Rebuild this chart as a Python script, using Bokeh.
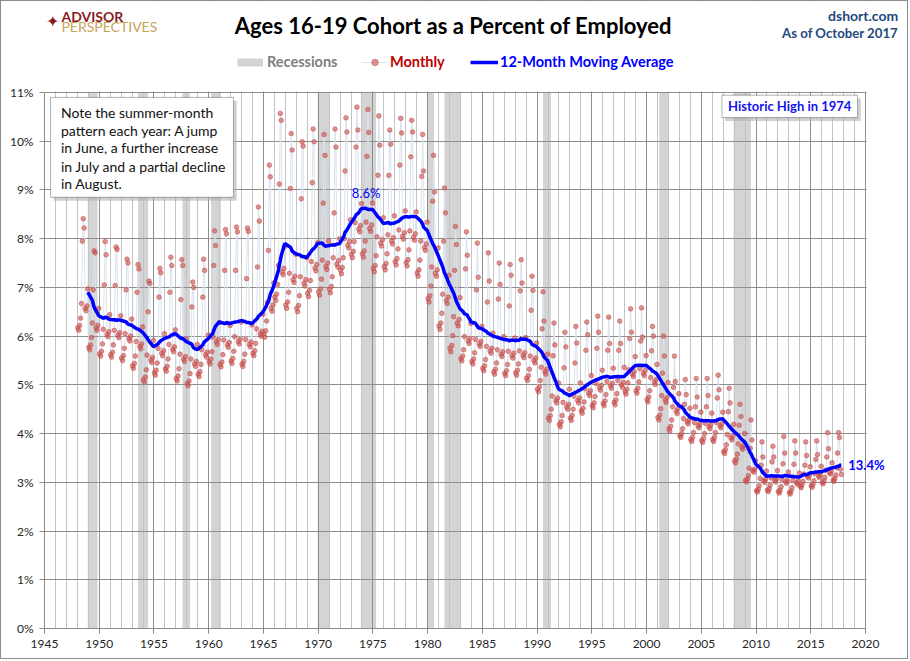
import pandas as pd
from bokeh.plotting import figure
from bokeh.models import (Range1d, FixedTicker, PrintfTickFormatter, Label, BoxAnnotation,
                          Legend, LegendItem, ColumnDataSource)
from bokeh.embed import file_html
from bokeh.resources import INLINE

# ---------------- data (percent of employed aged 16-19), Jan 1948 - Oct 2017 ----------------
first_year = 1948
monthly_1948_1959 = [
    [6.17, 6.12, 6.22, 6.37, 6.67, 7.95, 8.41, 8.22, 6.57, 6.52, 6.62, 6.97],
    [5.77, 5.72, 5.82, 5.97, 6.27, 6.95, 7.75, 7.71, 6.17, 6.12, 6.22, 6.57],
    [5.64, 5.59, 5.69, 5.84, 6.14, 7.05, 7.94, 7.67, 6.04, 5.99, 6.09, 6.44],
    [5.62, 5.57, 5.67, 5.82, 6.12, 7.04, 7.83, 7.78, 6.02, 5.97, 6.07, 6.42],
    [5.55, 5.50, 5.60, 5.75, 6.05, 6.95, 7.58, 7.50, 5.95, 5.90, 6.00, 6.35],
    [5.39, 5.34, 5.44, 5.59, 5.89, 6.90, 7.47, 7.38, 5.79, 5.74, 5.84, 6.19],
    [5.11, 5.06, 5.16, 5.31, 5.61, 6.50, 7.13, 7.08, 5.51, 5.46, 5.56, 5.91],
    [5.25, 5.20, 5.30, 5.45, 5.75, 6.80, 7.39, 7.30, 5.65, 5.60, 5.70, 6.05],
    [5.33, 5.28, 5.38, 5.53, 5.83, 6.90, 7.62, 7.45, 5.73, 5.68, 5.78, 6.13],
    [5.13, 5.08, 5.18, 5.33, 5.63, 6.75, 7.57, 7.45, 5.53, 5.48, 5.58, 5.93],
    [5.03, 4.98, 5.08, 5.23, 5.53, 6.60, 7.11, 7.00, 5.43, 5.38, 5.48, 5.83],
    [5.22, 5.17, 5.27, 5.42, 5.72, 6.80, 7.58, 7.35, 5.62, 5.57, 5.67, 6.02],
]
monthly_1960_1969 = [
    [5.48, 5.43, 5.53, 5.68, 5.98, 7.45, 8.16, 7.86, 5.88, 5.83, 5.93, 6.28],
    [5.42, 5.37, 5.47, 5.62, 5.92, 7.35, 8.19, 8.10, 5.82, 5.77, 5.87, 6.22],
    [5.49, 5.44, 5.54, 5.69, 5.99, 7.35, 8.24, 8.14, 5.89, 5.84, 5.94, 6.29],
    [5.43, 5.38, 5.48, 5.63, 5.93, 7.18, 8.22, 8.15, 5.83, 5.78, 5.88, 6.23],
    [5.65, 5.60, 5.70, 5.85, 6.15, 7.42, 8.65, 8.36, 6.05, 6.00, 6.10, 6.45],
    [6.05, 5.98, 6.11, 6.31, 6.70, 7.76, 9.51, 9.27, 6.57, 6.51, 6.64, 7.09],
    [6.80, 6.73, 6.86, 7.06, 7.45, 9.12, 10.57, 10.43, 7.32, 7.26, 7.39, 7.84],
    [6.64, 6.57, 6.70, 6.90, 7.29, 9.03, 10.16, 9.82, 7.16, 7.10, 7.23, 7.68],
    [6.57, 6.50, 6.63, 6.83, 7.22, 8.82, 9.99, 9.90, 7.09, 7.03, 7.16, 7.61],
    [6.88, 6.81, 6.94, 7.14, 7.53, 9.15, 10.25, 9.99, 7.40, 7.34, 7.47, 7.92],
]
monthly_1970_1979 = [
    [6.91, 6.84, 6.97, 7.17, 7.56, 8.73, 10.14, 9.71, 7.43, 7.37, 7.50, 7.95],
    [6.96, 6.89, 7.02, 7.22, 7.61, 8.53, 10.25, 9.88, 7.48, 7.42, 7.55, 8.00],
    [7.35, 7.28, 7.41, 7.61, 8.00, 9.39, 10.48, 10.19, 7.87, 7.81, 7.94, 8.39],
    [7.68, 7.61, 7.74, 7.94, 8.33, 9.88, 10.70, 10.23, 8.20, 8.14, 8.27, 8.72],
    [7.69, 7.62, 7.75, 7.95, 8.34, 9.69, 10.65, 10.18, 8.21, 8.15, 8.28, 8.73],
    [7.39, 7.32, 7.45, 7.65, 8.04, 9.30, 10.52, 9.92, 7.91, 7.85, 7.98, 8.43],
    [7.43, 7.36, 7.49, 7.69, 8.08, 9.30, 10.23, 9.94, 7.95, 7.89, 8.02, 8.47],
    [7.53, 7.46, 7.59, 7.79, 8.18, 9.51, 10.47, 10.17, 8.05, 7.99, 8.12, 8.57],
    [7.51, 7.44, 7.57, 7.77, 8.16, 9.68, 10.43, 10.19, 8.03, 7.97, 8.10, 8.55],
    [7.30, 7.23, 7.36, 7.56, 7.95, 9.28, 10.14, 9.39, 7.82, 7.76, 7.89, 8.34],
]
monthly_1980_1989 = [
    [6.77, 6.70, 6.83, 7.03, 7.42, 8.77, 9.71, 8.96, 7.29, 7.23, 7.36, 7.81],
    [6.21, 6.14, 6.27, 6.47, 6.86, 7.95, 9.04, 8.53, 6.73, 6.67, 6.80, 7.25],
    [5.75, 5.68, 5.81, 6.01, 6.40, 7.35, 8.25, 7.88, 6.27, 6.21, 6.34, 6.79],
    [5.54, 5.49, 5.59, 5.72, 5.99, 7.38, 8.14, 7.66, 5.90, 5.85, 5.95, 6.26],
    [5.48, 5.43, 5.53, 5.66, 5.93, 6.95, 7.91, 7.21, 5.84, 5.79, 5.89, 6.20],
    [5.34, 5.29, 5.39, 5.52, 5.79, 6.70, 7.71, 7.13, 5.70, 5.65, 5.75, 6.06],
    [5.27, 5.22, 5.32, 5.45, 5.72, 6.76, 7.50, 7.06, 5.63, 5.58, 5.68, 5.99],
    [5.24, 5.19, 5.29, 5.42, 5.69, 6.62, 7.47, 7.25, 5.60, 5.55, 5.65, 5.96],
    [5.25, 5.20, 5.30, 5.43, 5.70, 6.93, 7.57, 7.09, 5.61, 5.56, 5.66, 5.97],
    [5.14, 5.09, 5.19, 5.32, 5.59, 6.53, 7.23, 6.94, 5.50, 5.45, 5.55, 5.86],
]
monthly_1990_1999 = [
    [4.91, 4.86, 4.96, 5.09, 5.36, 6.15, 6.91, 6.31, 5.27, 5.22, 5.32, 5.63],
    [4.32, 4.27, 4.37, 4.50, 4.77, 5.60, 6.27, 5.82, 4.68, 4.63, 4.73, 5.04],
    [4.19, 4.14, 4.24, 4.37, 4.64, 5.35, 6.08, 5.78, 4.55, 4.50, 4.60, 4.91],
    [4.32, 4.27, 4.37, 4.50, 4.77, 5.45, 6.20, 5.86, 4.68, 4.63, 4.73, 5.04],
    [4.47, 4.42, 4.52, 4.65, 4.92, 5.71, 6.29, 6.03, 4.83, 4.78, 4.88, 5.19],
    [4.58, 4.53, 4.63, 4.76, 5.03, 5.75, 6.41, 6.08, 4.94, 4.89, 4.99, 5.30],
    [4.62, 4.57, 4.67, 4.80, 5.07, 5.71, 6.39, 5.85, 4.98, 4.93, 5.03, 5.34],
    [4.64, 4.59, 4.69, 4.82, 5.09, 5.71, 6.31, 5.85, 5.00, 4.95, 5.05, 5.36],
    [4.86, 4.81, 4.91, 5.04, 5.31, 5.95, 6.56, 6.08, 5.22, 5.17, 5.27, 5.58],
    [4.88, 4.83, 4.93, 5.06, 5.33, 5.90, 6.58, 5.98, 5.24, 5.19, 5.29, 5.60],
]
monthly_2000_2009 = [
    [4.70, 4.65, 4.75, 4.88, 5.15, 5.70, 6.20, 6.00, 5.06, 5.01, 5.11, 5.42],
    [4.33, 4.28, 4.38, 4.51, 4.78, 5.24, 6.00, 5.59, 4.69, 4.64, 4.74, 5.05],
    [4.10, 4.05, 4.15, 4.28, 4.55, 4.95, 5.59, 5.07, 4.46, 4.41, 4.51, 4.82],
    [3.96, 3.92, 4.00, 4.10, 4.31, 4.60, 5.11, 4.80, 4.24, 4.20, 4.28, 4.52],
    [3.88, 3.84, 3.92, 4.02, 4.23, 4.55, 5.13, 4.75, 4.16, 4.12, 4.20, 4.44],
    [3.86, 3.82, 3.90, 4.00, 4.21, 4.55, 5.13, 4.78, 4.14, 4.10, 4.18, 4.42],
    [3.88, 3.84, 3.92, 4.02, 4.23, 4.73, 5.20, 4.90, 4.16, 4.12, 4.20, 4.44],
    [3.63, 3.59, 3.67, 3.77, 3.98, 4.45, 4.93, 4.63, 3.91, 3.87, 3.95, 4.19],
    [3.44, 3.40, 3.48, 3.58, 3.79, 4.17, 4.60, 4.35, 3.72, 3.68, 3.76, 4.00],
    [3.04, 3.01, 3.07, 3.14, 3.29, 3.70, 4.28, 3.87, 3.24, 3.21, 3.27, 3.44],
]
monthly_2010_2017 = [
    [2.83, 2.80, 2.86, 2.93, 3.08, 3.35, 3.83, 3.52, 3.03, 3.00, 3.06, 3.23],
    [2.84, 2.81, 2.87, 2.94, 3.09, 3.42, 3.74, 3.52, 3.04, 3.01, 3.07, 3.24],
    [2.81, 2.78, 2.84, 2.91, 3.06, 3.38, 3.94, 3.60, 3.01, 2.98, 3.04, 3.21],
    [2.79, 2.76, 2.82, 2.89, 3.04, 3.37, 3.85, 3.60, 2.99, 2.96, 3.02, 3.19],
    [2.92, 2.89, 2.95, 3.02, 3.17, 3.35, 3.83, 3.55, 3.12, 3.09, 3.15, 3.32],
    [2.93, 2.90, 2.96, 3.03, 3.18, 3.47, 3.85, 3.57, 3.13, 3.10, 3.16, 3.33],
    [3.00, 2.97, 3.03, 3.10, 3.25, 3.52, 4.02, 3.69, 3.20, 3.17, 3.23, 3.40],
    [3.05, 3.02, 3.08, 3.15, 3.30, 3.60, 4.02, 3.92, 3.27, 3.16],
]

recession_start = [1948.95, 1953.55, 1957.60, 1960.22, 1969.96, 1973.92, 1980.00, 1981.53, 1990.54, 2001.16, 2007.95]
recession_end = [1949.84, 1954.47, 1958.30, 1961.10, 1971.00, 1975.29, 1980.59, 1982.99, 1991.27, 2001.96, 2009.54]

x_ticks = list(range(1945, 2021, 5))
x_minor = list(range(1945, 2021))
y_ticks = list(range(0, 12))

title_text = "Ages 16-19 Cohort as a Percent of Employed"
site_text = "dshort.com"
asof_text = "As of October 2017"
logo_top = "ADVISOR"
logo_bottom = "PERSPECTIVES"
note_lines = ["Note the summer-month", "pattern each year:  A jump", "in June, a further increase",
              "in July and a partial decline", "in August."]
high_text = "Historic High in 1974"
peak_label = "8.6%"
last_label = "13.4%"
legend_labels = ["Recessions", "Monthly", "12-Month Moving Average"]

# ---------------- derived series ----------------
blocks = [monthly_1948_1959, monthly_1960_1969, monthly_1970_1979, monthly_1980_1989,
          monthly_1990_1999, monthly_2000_2009, monthly_2010_2017]
monthly = [v for block in blocks for row in block for v in row]
xs = [first_year + i / 12 + 1 / 24 for i in range(len(monthly))]
ma = pd.Series(monthly).rolling(12).mean()
ma_x = [x for x, m in zip(xs, ma) if pd.notna(m)]
ma_y = [m for m in ma if pd.notna(m)]

FONT = "Lato"
X0, X1 = 1945, 2020
Y0, Y1 = 0, 11

# frame spans to the top and right edges of the canvas so header, legend and end label are visible;
# axes are bounded to the data area
p = figure(width=908, height=659, x_range=Range1d(1945, 2024.02), y_range=Range1d(0, 12.868),
           output_backend="svg", toolbar_location=None,
           min_border_left=43, min_border_right=0, min_border_top=0, min_border_bottom=32,
           background_fill_color="white", border_fill_color="white", outline_line_color=None,
           styles={"border": "1px solid #8c8c8c"})

# recessions
rec = p.quad(left=recession_start, right=recession_end, bottom=Y0, top=Y1,
             fill_color="#d4d4d4", line_color=None, level="image")

# axes and grids
p.xaxis.ticker = FixedTicker(ticks=x_ticks, minor_ticks=x_minor)
p.yaxis.ticker = FixedTicker(ticks=y_ticks)
p.xgrid.ticker = FixedTicker(ticks=x_ticks, minor_ticks=x_minor)
p.xgrid.grid_line_color = "#8e8e8e"
p.xgrid.minor_grid_line_color = "#c4c4c4"
p.ygrid.grid_line_color = "#8e8e8e"
p.yaxis.formatter = PrintfTickFormatter(format="%d%%")
p.xaxis.bounds = (X0, X1)
p.yaxis.bounds = (Y0, Y1)

for ax in (p.xaxis, p.yaxis):
    ax.axis_line_color = "#8a8a8a"
    ax.major_tick_line_color = "#8a8a8a"
    ax.major_tick_in = 0
    ax.major_tick_out = 5
    ax.minor_tick_line_color = None
    ax.major_label_text_font = FONT
    ax.major_label_text_font_size = "12px"
    ax.major_label_text_color = "#262626"
    ax.major_label_standoff = 6

# series
src = ColumnDataSource(dict(x=xs, y=monthly))
mline = p.line("x", "y", source=src, line_color="#d8e2ee", line_width=1)
mpts = p.scatter("x", "y", source=src, size=4.6, fill_color="#c8504d", line_color="#c8504d",
                 fill_alpha=0.6, line_alpha=0.6)
ma_r = p.line(ma_x, ma_y, line_color="#0000ff", line_width=3.5)

# white masks: keep grid lines inside the 1945-2020 / 0-11% plot area
p.add_layout(BoxAnnotation(bottom=Y1 + 0.02, fill_color="white", fill_alpha=1, line_color=None))
p.add_layout(BoxAnnotation(left=X1 + 0.09, fill_color="white", fill_alpha=1, line_color=None))

# legend swatch for recessions: a wide grey line kept outside the visible ranges
rec_swatch = p.line(x=[1900, 1901], y=[-5, -5], line_color="#d4d4d4", line_width=8)

leg_specs = [
    (legend_labels[0], [rec_swatch], "#7f7f7f", 193, 26, 4),
    (legend_labels[1], [mline, mpts], "#c00000", 318, 25, 3),
    (legend_labels[2], [ma_r], "#0000ff", 426, 28, 2),
]
for lab, rends, col, lx, gw, stand in leg_specs:
    leg = Legend(items=[LegendItem(label=lab, renderers=rends)], location=(lx, 558),
                 orientation="horizontal", border_line_color=None, background_fill_alpha=0,
                 padding=0, margin=0, glyph_width=gw, glyph_height=16, label_height=16,
                 label_standoff=stand, label_text_font=FONT, label_text_font_style="bold",
                 label_text_font_size="14.5px", label_text_color=col)
    p.add_layout(leg)

# note box
p.add_layout(BoxAnnotation(left=1945.55 + 0.3, right=1962.26 + 0.3, top=10.9 - 0.07, bottom=8.85 - 0.07,
                           fill_color="#b0b0b0", fill_alpha=0.6, line_color=None))
p.add_layout(BoxAnnotation(left=1945.55, right=1962.26, top=10.9, bottom=8.85,
                           fill_color="white", fill_alpha=1, line_color="black", line_width=1))
note_y = [10.60, 10.23, 9.87, 9.49, 9.13]
for t, yy in zip(note_lines, note_y):
    p.add_layout(Label(x=1946.5, y=yy, text=t, text_align="left", text_baseline="middle",
                       text_font=FONT, text_font_size="14px", text_color="#111111"))

# historic high box
p.add_layout(BoxAnnotation(left=2006.88 + 0.3, right=2019.27 + 0.3, top=10.945 - 0.07, bottom=10.486 - 0.07,
                           fill_color="#b0b0b0", fill_alpha=0.6, line_color=None))
p.add_layout(BoxAnnotation(left=2006.88, right=2019.27, top=10.945, bottom=10.486,
                           fill_color="white", fill_alpha=1, line_color="black", line_width=1))
p.add_layout(Label(x=2013.08, y=10.715, text=high_text, text_align="center", text_baseline="middle",
                   text_font=FONT, text_font_size="13px", text_font_style="bold", text_color="#1414f0"))

# MA labels
imax = max(range(len(ma_y)), key=lambda i: ma_y[i])
p.add_layout(Label(x=ma_x[imax], y=ma_y[imax] + 0.31, text=peak_label, text_align="center",
                   text_baseline="middle", text_font=FONT, text_font_size="13px", text_color="#0000ff"))
p.add_layout(Label(x=ma_x[-1] + 0.63, y=ma_y[-1], text=last_label, text_align="left",
                   text_baseline="middle", text_font=FONT, text_font_size="13px",
                   text_font_style="bold", text_color="#0000ff"))

# header texts
p.add_layout(Label(x=1982.35, y=12.38, text=title_text, text_align="center", text_baseline="middle",
                   text_font=FONT, text_font_size="22px", text_font_style="bold", text_color="#000000"))
p.add_layout(Label(x=2022.99, y=12.59, text=site_text, text_align="right", text_baseline="middle",
                   text_font=FONT, text_font_size="14px", text_font_style="bold", text_color="#1f497d"))
p.add_layout(Label(x=2022.99, y=12.22, text=asof_text, text_align="right", text_baseline="middle",
                   text_font=FONT, text_font_size="13.2px", text_font_style="bold", text_color="#1f497d"))
p.add_layout(Label(x=1946.55, y=12.55, text=logo_top, text_align="left", text_baseline="middle",
                   text_font=FONT, text_font_size="14px", text_font_style="bold", text_color="#8b1c23"))
p.add_layout(Label(x=1946.55, y=12.35, text=logo_bottom, text_align="left", text_baseline="middle",
                   text_font=FONT, text_font_size="14px", text_color="#c8a35a"))
p.add_layout(Label(x=1945.75, y=12.45, text="\u2726", text_align="center", text_baseline="middle",
                   text_font="DejaVu Sans", text_font_size="16px", text_color="#8b1c23"))

open("out.html", "w").write(file_html(p, INLINE))
